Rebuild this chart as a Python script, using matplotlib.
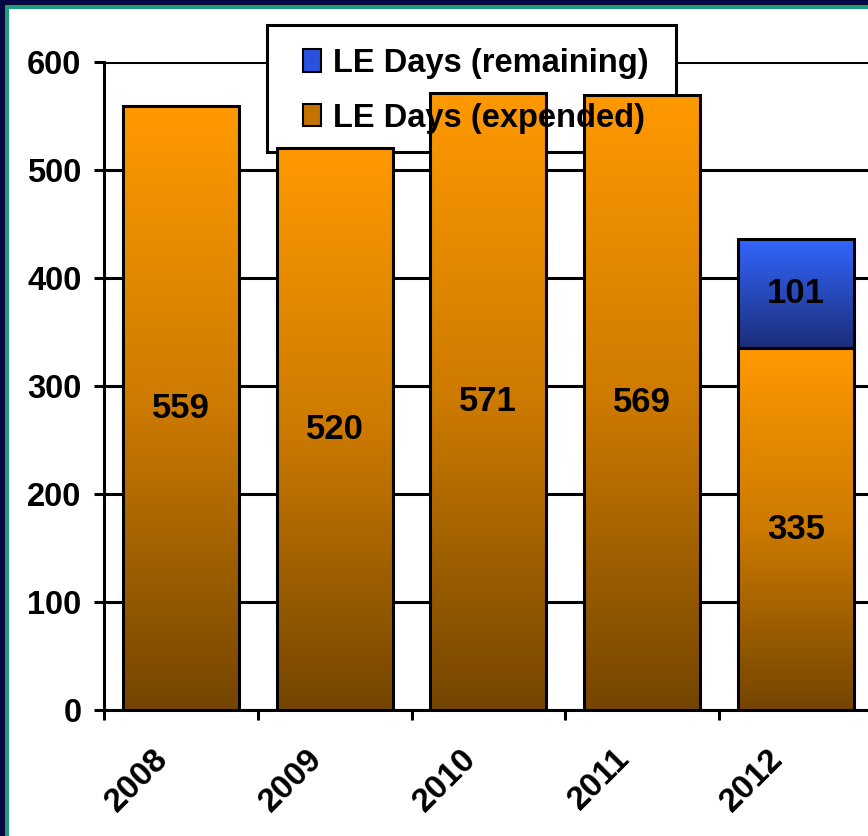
import numpy as np
import matplotlib
matplotlib.use('Agg')
import matplotlib.pyplot as plt
import matplotlib.transforms as mtransforms
from matplotlib.patches import Rectangle, Patch
from matplotlib.colors import LinearSegmentedColormap

years = ['2008', '2009', '2010', '2011', '2012']
expended = [559, 520, 571, 569, 335]
remaining = [0, 0, 0, 0, 101]
series_names = ['LE Days (remaining)', 'LE Days (expended)']

plt.rcParams['font.family'] = ['Liberation Sans', 'DejaVu Sans']
plt.rcParams['font.weight'] = 'bold'

W, H = 868, 836
fig = plt.figure(figsize=(W / 100, H / 100), dpi=100, facecolor='#06064a')

# slide frame: dark edge, teal rule, white body
fig.patches.append(Rectangle((4 / W, -0.1), 2, 1.1 - 4 / H, transform=fig.transFigure,
                             facecolor='#0a0a20', edgecolor='none', zorder=-3))
fig.patches.append(Rectangle((5 / W, -0.1), 2, 1.1 - 5 / H, transform=fig.transFigure,
                             facecolor='#1e9c82', edgecolor='none', zorder=-2))
fig.patches.append(Rectangle((9 / W, -0.1), 2, 1.1 - 9 / H, transform=fig.transFigure,
                             facecolor='white', edgecolor='none', zorder=-1))

ax = fig.add_axes([104 / W, 126 / H, 768.75 / W, 648 / H])
ax.patch.set_alpha(0)

orange_cmap = LinearSegmentedColormap.from_list('orng', ['#744500', '#cc7a00', '#FF9900'])
blue_cmap = LinearSegmentedColormap.from_list('blu', ['#1b2d78', '#3366FF'])
grad = np.linspace(0, 1, 256).reshape(-1, 1)
width = 0.755
x = np.arange(len(years))


def gradient_bars(xs, heights, bottoms, cmap):
    bars = ax.bar(xs, heights, width, bottom=bottoms, facecolor='none',
                  edgecolor='black', linewidth=2.2, zorder=4)
    for rect in bars:
        x0, y0 = rect.get_x(), rect.get_y()
        ax.imshow(grad, cmap=cmap, origin='lower', aspect='auto', interpolation='bilinear',
                  extent=(x0, x0 + rect.get_width(), y0, y0 + rect.get_height()), zorder=3)
    return bars


gradient_bars(x, expended, 0, orange_cmap)
rem = np.array(remaining)
has_rem = rem > 0
gradient_bars(x[has_rem], rem[has_rem], np.array(expended)[has_rem], blue_cmap)

for i in x:
    ax.text(i, expended[i] / 2, str(expended[i]), ha='center', va='center',
            fontsize=25, fontweight='bold', zorder=5)
    if remaining[i] > 0:
        ax.text(i, expended[i] + remaining[i] / 2, str(remaining[i]), ha='center',
                va='center', fontsize=25, fontweight='bold', zorder=5)

ax.set_xlim(-0.5, len(years) - 0.5)
ax.set_ylim(0, 600)
ax.set_yticks(range(0, 601, 100))
ax.set_xticks(x)
ax.set_xticklabels(years, rotation=45, ha='right', va='top', fontsize=24)
ax.set_xticks(np.arange(-0.5, len(years), 1), minor=True)
ax.tick_params(axis='x', which='major', length=0, pad=24)
ax.tick_params(axis='x', which='minor', length=7.2, width=2.2, direction='out')
ax.tick_params(axis='y', length=7.2, width=2.2, direction='out', pad=9, labelsize=23.5)
shift = mtransforms.ScaledTranslation(-6 / 100, 0, fig.dpi_scale_trans)
for lab in ax.get_xticklabels():
    lab.set_transform(lab.get_transform() + shift)

ax.yaxis.grid(True, color='black', linewidth=2.2)
ax.set_axisbelow(True)
for side in ['top', 'right']:
    ax.spines[side].set_visible(False)
for side in ['left', 'bottom']:
    ax.spines[side].set_linewidth(2.2)

# legend box sits behind the bars, its entries on top of them
box = Rectangle((267 / W, 1 - 152 / H), 409 / W, 127 / H, transform=fig.transFigure,
                facecolor='white', edgecolor='black', linewidth=2.2, zorder=2.5,
                clip_on=False)
ax.add_artist(box)

handles = [Patch(facecolor='#2a50e0', edgecolor='black', linewidth=1.5),
           Patch(facecolor='#c47200', edgecolor='black', linewidth=1.5)]
leg = ax.legend(handles, series_names, loc='upper left',
                bbox_to_anchor=(303 / W, 1 - 48 / H), bbox_transform=fig.transFigure,
                borderaxespad=0, borderpad=0, fontsize=23.5, frameon=False,
                handlelength=0.55, handleheight=0.68, handletextpad=0.37,
                labelspacing=0.72)
leg.set_zorder(6)

fig.savefig('out.png', dpi=100, facecolor=fig.get_facecolor())
